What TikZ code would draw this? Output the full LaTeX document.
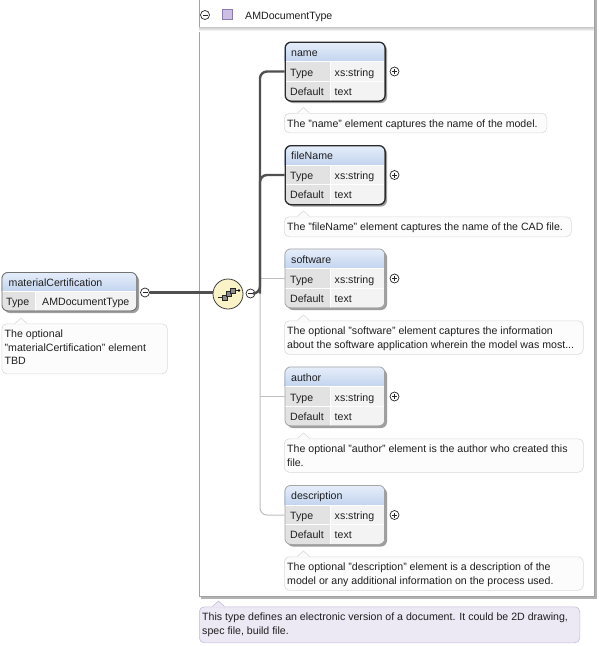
\documentclass[tikz,border=0pt]{standalone}
\usepackage{fontspec}
\setmainfont{Liberation Sans}
\definecolor{hdtop}{HTML}{E6EEFA}
\definecolor{hdbot}{HTML}{C3D4EF}
\definecolor{cellA}{HTML}{E2E2E2}
\definecolor{cellB}{HTML}{F3F3F3}
\definecolor{reqline}{HTML}{2B2B2B}
\definecolor{optline}{HTML}{A6A6A6}
\definecolor{docfill}{HTML}{FCFCFC}
\definecolor{docline}{HTML}{DADADA}
\definecolor{typefill}{HTML}{ECE8F4}
\definecolor{typeline}{HTML}{C4BCD8}
\definecolor{seqfill}{HTML}{FBF3C8}
\definecolor{wire}{HTML}{505050}
\definecolor{thinwire}{HTML}{BEBEBE}
\definecolor{frame}{HTML}{A2A2A2}
\definecolor{iconfill}{HTML}{CBBEE2}
\definecolor{iconline}{HTML}{8C7CB2}
\tikzset{
  txt/.style={font=\fontsize{10.6}{13.5}\selectfont, inner sep=0pt, text=black!88},
  reqbox/.style={draw=reqline, line width=1.3pt},
  optbox/.style={draw=optline, line width=0.8pt},
  elshadow/.style={fill=black!38},
  wireline/.style={draw=wire, line width=2.4pt, rounded corners=7pt},
  thinline/.style={draw=thinwire, line width=1pt, rounded corners=7pt},
  plusc/.style={circle, draw=black!85, fill=white, line width=0.7pt, minimum size=9pt, inner sep=0pt,
    path picture={\draw[black!85, line width=0.7pt] (path picture bounding box.center) ++(-2.5pt,0) -- ++(5pt,0)
      (path picture bounding box.center) ++(0,-2.5pt) -- ++(0,5pt);}},
  minusc/.style={circle, draw=black!85, fill=white, line width=0.7pt, minimum size=9pt, inner sep=0pt,
    path picture={\draw[black!85, line width=0.7pt] (path picture bounding box.center) ++(-2.5pt,0) -- ++(5pt,0);}},
}
% element box with Type / Default rows: id, x, top, title, border style
\newcommand\xsdelem[5]{%
  \fill[elshadow, rounded corners=6pt] (#2+2.5,-#3-2.5) rectangle ++(100,-59);
  \begin{scope}
    \clip[rounded corners=6pt] (#2,-#3) rectangle ++(100,-59);
    \shade[top color=hdtop,bottom color=hdbot] (#2,-#3) rectangle ++(100,-20);
    \fill[cellA] (#2,-#3-20) rectangle ++(46,-39);
    \fill[cellB] (#2+46,-#3-20) rectangle ++(54,-39);
    \draw[white, line width=1pt] (#2,-#3-20) -- ++(100,0) (#2,-#3-39.5) -- ++(100,0)
      (#2+46,-#3-20) -- ++(0,-39);
  \end{scope}
  \node[#5, rounded corners=6pt, minimum width=100pt, minimum height=59pt, anchor=north west, inner sep=0pt] (#1) at (#2,-#3) {};
  \node[txt, anchor=base west] (#1-title) at (#2+6.5,-#3-14.5) {#4};
  \node[txt, anchor=base west] (#1-tk) at (#2+5.5,-#3-34.5) {Type};
  \node[txt, anchor=base west] (#1-tv) at (#2+50,-#3-34.5) {xs:string};
  \node[txt, anchor=base west] (#1-dk) at (#2+5.5,-#3-53.5) {Default};
  \node[txt, anchor=base west] (#1-dv) at (#2+50,-#3-53.5) {text};
  \coordinate (#1-in) at (#2,-#3-30);
  \node[plusc] (#1-plus) at (#2+110,-#3-30) {};
}
% annotation bubble with a small pointer: id, x, top, width, height, fill, line, text
\newcommand\docbubble[8]{%
  \node[draw=#7, fill=#6, line width=0.6pt, rounded corners=5pt, minimum width=#4pt, minimum height=#5pt,
    anchor=north west, inner sep=0pt] (#1) at (#2,-#3) {};
  \fill[#6] (#2+13.5,-#3-0.7) -- (#2+19.5,-#3+5.5) -- (#2+25.5,-#3-0.7) -- cycle;
  \draw[#7, line width=0.6pt] (#2+13.5,-#3) -- (#2+19.5,-#3+5.5) -- (#2+25.5,-#3);
  \node[txt, anchor=north west, align=left] (#1-text) at (#2+3,-#3-6.3) {#8};
}
\begin{document}
\begin{tikzpicture}[x=1pt,y=1pt]
\useasboundingbox (0,0) rectangle (598,-646);

% complex type frame
\fill[black!30] (201,1) rectangle (596.5,-598.5);
\node[draw=frame, fill=white, line width=0.8pt, minimum width=395.5pt, minimum height=597pt,
  anchor=north west, inner sep=0pt] (cplx) at (198.5,1) {};
\node[minusc] (hdminus) at (205,-15) {};
\node[draw=iconline, fill=iconfill, line width=0.6pt, minimum size=10pt, inner sep=0pt] (hdicon) at (227.5,-14.5) {};
\node[txt, anchor=base west] (hdname) at (245,-19) {AMDocumentType};
\shade[top color=black!22, bottom color=white] (199,-27) rectangle (593.5,-31);

% root element
\fill[elshadow, rounded corners=6pt] (4,-274.5) rectangle ++(135,-38.5);
\begin{scope}
  \clip[rounded corners=6pt] (1.5,-272) rectangle ++(135,-38.5);
  \shade[top color=hdtop,bottom color=hdbot] (1.5,-272) rectangle ++(135,-19.5);
  \fill[cellA] (1.5,-291.5) rectangle ++(33.5,-19);
  \fill[cellB] (35,-291.5) rectangle ++(101.5,-19);
  \draw[white, line width=1pt] (1.5,-291.5) -- ++(135,0) (35,-291.5) -- ++(0,-19);
\end{scope}
\node[draw=black!55, line width=0.9pt, rounded corners=6pt, minimum width=135pt, minimum height=38.5pt,
  anchor=north west, inner sep=0pt] (mc) at (1.5,-272) {};
\node[txt, anchor=base west] (mc-title) at (8.5,-286.5) {materialCertification};
\node[txt, anchor=base west] (mc-tk) at (6,-305.5) {Type};
\node[txt, anchor=base west] (mc-tv) at (42,-305.5) {AMDocumentType};
\node[minusc] (mcminus) at (145,-292.5) {};
\docbubble{mcdoc}{1.5}{323.5}{165.5}{50}{docfill}{docline}{The optional\\"materialCertification" element\\TBD}

% sequence compositor
\node[circle, draw=black!75, fill=seqfill, line width=0.8pt, minimum size=30pt, inner sep=0pt] (seq) at (228,-294) {};
\draw[black!85, line width=0.8pt] (217.5,-297.5) -- (222,-297.5) (235,-290.5) -- (238.5,-290.5);
\filldraw[fill=black!45, draw=black!85, line width=0.6pt] (222,-295) rectangle ++(5,-5);
\filldraw[fill=black!45, draw=black!85, line width=0.6pt] (226,-291.5) rectangle ++(5,-5);
\filldraw[fill=black!45, draw=black!85, line width=0.6pt] (230,-288) rectangle ++(5,-5);
\fill[black] (239,-290.5) circle (1.4pt);
\node[minusc] (seqminus) at (250.5,-293.5) {};
\coordinate (bus) at (260,-293.5);

% child elements
\xsdelem{name}{284.5}{41.5}{name}{reqbox}
\xsdelem{fileName}{284.5}{145}{fileName}{reqbox}
\xsdelem{software}{284.5}{248.5}{software}{optbox}
\xsdelem{author}{284.5}{366.5}{author}{optbox}
\xsdelem{description}{284.5}{485}{description}{optbox}

\docbubble{namedoc}{284}{113}{262.5}{19.5}{docfill}{docline}{The "name" element captures the name of the model.}
\docbubble{fileNamedoc}{284}{216.5}{287}{20}{docfill}{docline}{The "fileName" element captures the name of the CAD file.}
\docbubble{softwaredoc}{284}{320.5}{299}{33.5}{docfill}{docline}{The optional "software" element captures the information\\about the software application wherein the model was most...}
\docbubble{authordoc}{284}{438.5}{299}{33.5}{docfill}{docline}{The optional "author" element is the author who created this\\file.}
\docbubble{descriptiondoc}{284}{556.5}{299}{33.5}{docfill}{docline}{The optional "description" element is a description of the\\model or any additional information on the process used.}

% type annotation
\docbubble{typedoc}{199}{606.5}{380.5}{36}{typefill}{typeline}{This type defines an electronic version of a document. It could be 2D drawing,\\spec file, build file.}

% connectors
\draw[wireline] (mcminus.east) -- (mcminus.east -| seq.west);
\draw[thinline] (bus) |- (description-in);
\draw[thinline] (bus |- software-in) -- (software-in);
\draw[thinline] (bus |- author-in) -- (author-in);
\draw[wireline] (seqminus.east) -- (bus) |- (name-in);
\draw[wireline] (bus) |- (fileName-in);
\end{tikzpicture}
\end{document}
